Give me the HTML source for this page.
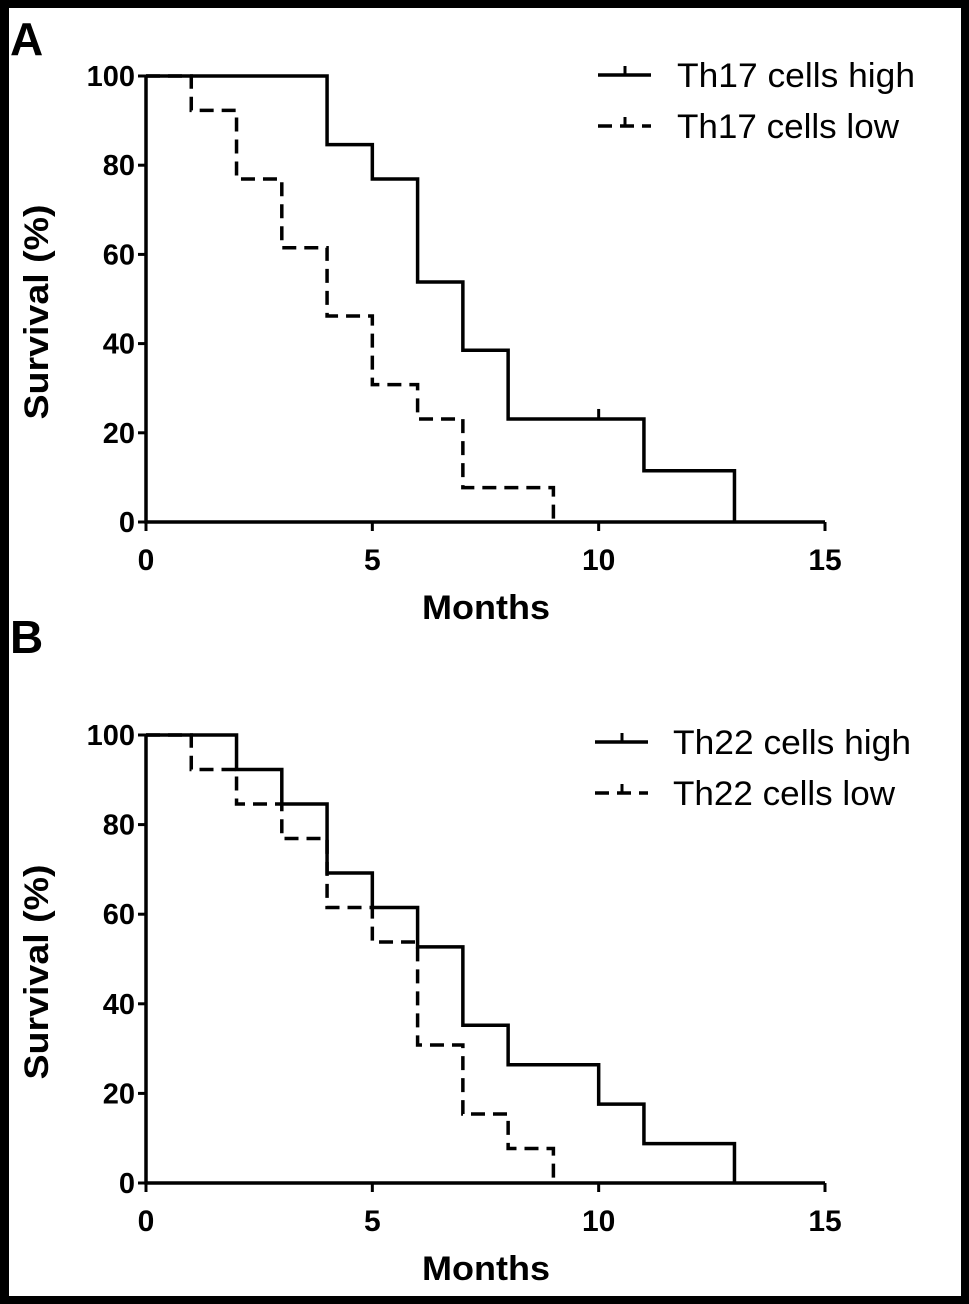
<!DOCTYPE html>
<html><head><meta charset="utf-8"><style>
html,body{margin:0;padding:0;background:#000;}
svg{display:block;font-family:"Liberation Sans",Arial,sans-serif;}
</style></head><body>
<svg id="c" width="969" height="1304" viewBox="0 0 969 1304">
<rect x="9" y="8" width="952" height="1288" fill="#fff"/>
</svg>
<script>
const xTicks=[0,5,10,15];
const yTicks=[0,20,40,60,80,100];
const aHighT=[0,4,5,6,7,8,11,13];
const aHighS=[100,84.6,76.9,53.8,38.5,23.1,11.5,0];
const aLowT=[0,1,2,3,4,5,6,7,9];
const aLowS=[100,92.3,76.9,61.5,46.2,30.8,23.1,7.7,0];
const bHighT=[0,2,3,4,5,6,7,8,10,11,13];
const bHighS=[100,92.3,84.6,69.2,61.5,52.7,35.2,26.4,17.6,8.8,0];
const bLowT=[0,1,2,3,4,5,6,7,8,9];
const bLowS=[100,92.3,84.6,76.9,61.5,53.8,30.8,15.4,7.7,0];
const aCensor=[10];
const aCensorS=[23.1];

const NS="http://www.w3.org/2000/svg";
const svg=document.getElementById('c');
function mk(tag,attrs,parent){const e=document.createElementNS(NS,tag);for(const k in attrs)e.setAttribute(k,attrs[k]);(parent||svg).appendChild(e);return e;}

function panel(letter,letterY,y100,y0,label,hT,hS,lT,lS,cT,cS,legY,legX1,legTX){
  const x0=146,x15=825;
  const X=v=>x0+(x15-x0)*v/15;
  const Y=v=>y0+(y100-y0)*v/100;
  const g=mk('g',{});
  
  
  let t=mk('text',{x:10,y:letterY,'font-size':46,'font-weight':'bold'},g);t.textContent=letter;
  
  
  let ax=mk('path',{d:`M${X(0)} ${Y(100)}V${Y(0)}H${X(15)}`,stroke:'#000','stroke-width':3.5,fill:'none'},g);
  
  
  yTicks.forEach(v=>{
    mk('line',{x1:X(0)-8,x2:X(0),y1:Y(v),y2:Y(v),stroke:'#000','stroke-width':3},g);
    const tt=mk('text',{x:X(0)-11,y:Y(v)+10,'font-size':29,'font-weight':'bold','text-anchor':'end'},g);
    tt.textContent=v;
    
    
  });
  xTicks.forEach(v=>{
    mk('line',{x1:X(v),x2:X(v),y1:Y(0),y2:Y(0)+9,stroke:'#000','stroke-width':3},g);
    const tt=mk('text',{x:X(v),y:Y(0)+48,'font-size':30,'font-weight':'bold','text-anchor':'middle'},g);
    tt.textContent=v;
    
    
  });
  let xt=mk('text',{x:486,y:Y(0)+97,'font-size':34,'font-weight':'bold','text-anchor':'middle',textLength:128,lengthAdjust:'spacingAndGlyphs'},g);
  xt.textContent='Months';
  
  
  const cy=(Y(0)+Y(100))/2+13;
  let yt=mk('text',{x:0,y:0,'font-size':34,'font-weight':'bold','text-anchor':'middle',textLength:215,lengthAdjust:'spacingAndGlyphs',transform:`translate(48 ${cy}) rotate(-90)`},g);
  yt.textContent='Survival (%)';
  
  
  function step(T,S){let d=`M${X(T[0])} ${Y(S[0])}`;for(let i=1;i<T.length;i++){d+=`H${X(T[i])}V${Y(S[i])}`;}return d;}
  let ph=mk('path',{d:step(hT,hS),stroke:'#000','stroke-width':3.5,fill:'none'},g);
  
  
  let pl=mk('path',{d:step(lT,lS),stroke:'#000','stroke-width':3.5,fill:'none','stroke-dasharray':'14 8'},g);
  
  
  cT.forEach((c,i)=>{
    const m=mk('line',{x1:X(c),x2:X(c),y1:Y(cS[i])-10,y2:Y(cS[i]),stroke:'#000','stroke-width':3},g);
    
    
  });
  [['high',false,238],['low',true,222]].forEach((e,i)=>{
    const ly=legY+i*51;
    const lg=mk('g',{},g);
    
    
    mk('line',{x1:legX1,x2:legX1+53,y1:ly,y2:ly,stroke:'#000','stroke-width':3.5,'stroke-dasharray':e[1]?'14 8':'none'},lg);
    mk('line',{x1:legX1+27,x2:legX1+27,y1:ly-9,y2:ly,stroke:'#000','stroke-width':3},lg);
    const tx=mk('text',{x:legTX,y:ly+12,'font-size':34,textLength:e[2],lengthAdjust:'spacingAndGlyphs'},lg);
    tx.textContent=label+' cells '+e[0];
  });
}
panel('A',55,76,522,'Th17',aHighT,aHighS,aLowT,aLowS,aCensor,aCensorS,75,598,677);
panel('B',653,735,1183,'Th22',bHighT,bHighS,bLowT,bLowS,[],[],742,595,673);
</script>
</body></html>
